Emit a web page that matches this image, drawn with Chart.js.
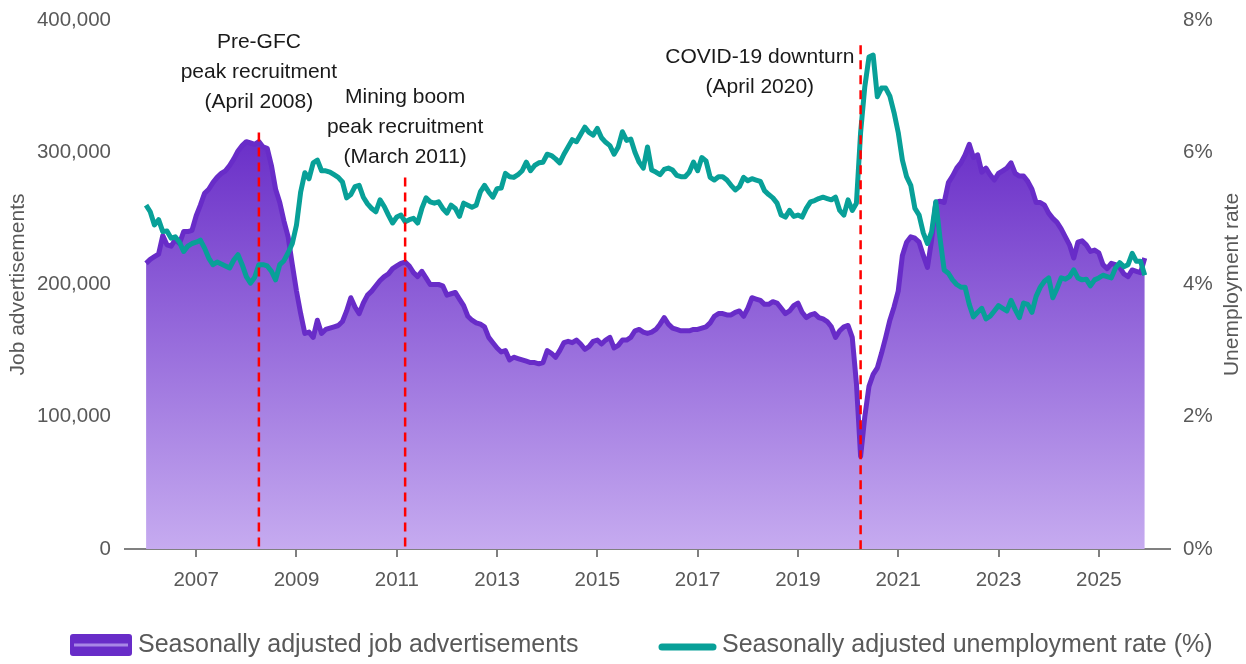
<!DOCTYPE html>
<html>
<head>
<meta charset="utf-8">
<title>Job advertisements and unemployment rate</title>
<script src="https://cdn.jsdelivr.net/npm/chart.js@4.4.1/dist/chart.umd.min.js"></script>
<style>
    html, body { margin: 0; padding: 0; background: #fff; }
    #wrap { width: 1246px; height: 664px; }
</style>
</head>
<body>
<div id="wrap"><canvas id="chart" width="1246" height="664"></canvas></div>
<script>
// ==========================
// Data (monthly, Jan 2006 - Dec 2025)
// ==========================
const firstYear = 2006;
const lastYear = 2025;

// Seasonally adjusted job advertisements, thousands
const jobAds = [
    216, 219, 221, 223, 237, 230, 229, 234, 231, 240, 240, 241,   // 2006
    252, 260, 269, 272, 277, 281, 284, 286, 290, 295, 301, 305,   // 2007
    308, 307, 306, 308, 304, 303, 290, 272, 262, 248, 236, 215,   // 2008
    195, 178, 163, 164, 160, 173, 163, 166, 167, 168, 169, 172,   // 2009
    180, 190, 183, 178, 186, 192, 195, 199, 203, 206, 208, 212,   // 2010
    214, 216, 217, 214, 209, 206, 210, 205, 200, 200, 200, 199,   // 2011
    192, 193, 194, 189, 184, 176, 173, 171, 170, 168, 160, 156,   // 2012
    152, 149, 150, 143, 145, 144, 143, 142, 141, 141, 140, 141,   // 2013
    150, 148, 145, 150, 156, 157, 156, 158, 155, 151, 153, 157,   // 2014
    158, 155, 158, 160, 152, 154, 158, 158, 160, 165, 166, 164,   // 2015
    163, 164, 166, 170, 175, 170, 167, 166, 165, 165, 165, 166,   // 2016
    166, 167, 168, 171, 176, 178, 178, 177, 177, 179, 180, 176,   // 2017
    182, 190, 189, 188, 185, 185, 187, 186, 182, 178, 180, 184,   // 2018
    186, 179, 175, 177, 178, 175, 174, 172, 168, 160, 165, 168,   // 2019
    169, 160, 125, 70, 100, 123, 132, 137, 148, 160, 173, 183,    // 2020
    195, 222, 232, 236, 235, 232, 222, 213, 234, 262, 263, 262,   // 2021
    277, 282, 288, 292, 298, 306, 296, 298, 285, 288, 283, 279,   // 2022
    284, 286, 288, 292, 284, 282, 282, 278, 272, 262, 262, 260,   // 2023
    254, 250, 247, 242, 236, 230, 220, 232, 233, 230, 225, 226,   // 2024
    224, 215, 212, 216, 215, 213, 208, 206, 211, 210, 209, 220    // 2025
];

// Seasonally adjusted unemployment rate, %
const unemployment = [
    5.20, 5.10, 4.90, 4.98, 4.80, 4.81, 4.70, 4.72, 4.64, 4.50, 4.58, 4.62,   // 2006
    4.64, 4.67, 4.55, 4.40, 4.30, 4.34, 4.31, 4.28, 4.25, 4.37, 4.45, 4.30,   // 2007
    4.12, 4.02, 4.11, 4.30, 4.30, 4.28, 4.20, 4.07, 4.30, 4.36, 4.48, 4.62,   // 2008
    4.90, 5.40, 5.69, 5.60, 5.84, 5.88, 5.72, 5.72, 5.70, 5.66, 5.62, 5.55,   // 2009
    5.31, 5.36, 5.48, 5.50, 5.32, 5.22, 5.15, 5.10, 5.28, 5.18, 5.05, 4.93,   // 2010
    5.02, 5.05, 4.95, 4.98, 5.00, 4.93, 5.15, 5.31, 5.25, 5.23, 5.25, 5.15,   // 2011
    5.08, 5.20, 5.15, 5.03, 5.23, 5.20, 5.17, 5.20, 5.40, 5.50, 5.40, 5.32,   // 2012
    5.45, 5.46, 5.68, 5.63, 5.62, 5.66, 5.72, 5.85, 5.72, 5.80, 5.84, 5.85,   // 2013
    5.97, 5.95, 5.90, 5.84, 5.97, 6.08, 6.19, 6.16, 6.27, 6.38, 6.30, 6.26,   // 2014
    6.36, 6.22, 6.15, 6.10, 5.97, 6.08, 6.31, 6.18, 6.20, 6.00, 5.85, 5.76,   // 2015
    6.08, 5.73, 5.70, 5.66, 5.74, 5.76, 5.73, 5.65, 5.63, 5.63, 5.70, 5.85,   // 2016
    5.72, 5.92, 5.87, 5.62, 5.58, 5.63, 5.63, 5.58, 5.50, 5.43, 5.48, 5.62,   // 2017
    5.57, 5.60, 5.58, 5.56, 5.42, 5.36, 5.31, 5.23, 5.05, 5.02, 5.12, 5.03,   // 2018
    5.05, 5.02, 5.15, 5.25, 5.27, 5.30, 5.32, 5.30, 5.28, 5.32, 5.12, 5.05,   // 2019
    5.28, 5.12, 5.23, 6.30, 6.99, 7.44, 7.47, 6.84, 6.97, 6.97, 6.85, 6.60,   // 2020
    6.30, 5.88, 5.63, 5.50, 5.15, 5.05, 4.78, 4.62, 4.80, 5.25, 4.70, 4.22,   // 2021
    4.17, 4.07, 4.00, 3.96, 3.96, 3.70, 3.51, 3.58, 3.64, 3.48, 3.52, 3.60,   // 2022
    3.68, 3.64, 3.60, 3.76, 3.62, 3.50, 3.72, 3.70, 3.58, 3.82, 3.96, 4.05,   // 2023
    4.10, 3.80, 3.94, 4.10, 4.08, 4.12, 4.22, 4.10, 4.07, 4.08, 3.98, 4.07,   // 2024
    4.10, 4.14, 4.12, 4.10, 4.25, 4.33, 4.27, 4.30, 4.47, 4.35, 4.35, 4.14    // 2025
];

const tickYears = [2007, 2009, 2011, 2013, 2015, 2017, 2019, 2021, 2023, 2025];
const leftTicks = [0, 100, 200, 300, 400];
const rightTicks = [0, 2, 4, 6, 8];

const seriesNames = [
    "Seasonally adjusted job advertisements",
    "Seasonally adjusted unemployment rate (%)"
];

// month position on the x axis (decimal year)
const months = [];
for (let y = firstYear; y <= lastYear; y++) {
    for (let m = 0; m < 12; m++) months.push(y + m / 12);
}

// ==========================
// Annotations
// ==========================
const events = [
    { at: 2008 + 3 / 12, lineTop: 315, textAt: 2008 + 3 / 12, textTop: 383, lines: ["Pre-GFC", "peak recruitment", "(April 2008)"] },
    { at: 2011 + 2 / 12, lineTop: 281, textAt: 2011 + 2 / 12, textTop: 342, lines: ["Mining boom", "peak recruitment", "(March 2011)"] },
    { at: 2020 + 3 / 12, lineTop: 381, textAt: 2018.24, textTop: 372, lines: ["COVID-19 downturn", "(April 2020)"] }
];

const PURPLE = "#682cc8";
const TEAL = "#08a098";
const GREY = "#595959";
const FONT = "'Liberation Sans', Arial, sans-serif";

function purpleFill(chart) {
    const { chartArea, scales } = chart;
    if (!chartArea) return "rgba(104,44,200,0.6)";
    const g = chart.ctx.createLinearGradient(0, scales.y.getPixelForValue(310), 0, chartArea.bottom);
    g.addColorStop(0, "#6a2fc8");
    g.addColorStop(1, "#c6abf0");
    return g;
}

// y axes: fixed width and no extra top/bottom padding from the labels
function fitSide(width) {
    return s => {
        s.width = width;
        s.paddingTop = 0;
        s.paddingBottom = 0;
    };
}

// ==========================
// Overlay plugin: event lines, notes, axis titles, legend
// ==========================
const overlay = {
    id: "overlay",
    afterDatasetsDraw(chart) {
        const { ctx, chartArea, scales } = chart;
        events.forEach(ev => {
            const x = scales.x.getPixelForValue(ev.at);
            ctx.save();
            ctx.strokeStyle = "#ff0000";
            ctx.lineWidth = 2.5;
            ctx.setLineDash([9, 6]);
            ctx.beginPath();
            ctx.moveTo(x, scales.y.getPixelForValue(ev.lineTop));
            ctx.lineTo(x, chartArea.bottom);
            ctx.stroke();
            ctx.restore();
        });
    },
    afterDraw(chart) {
        const { ctx, chartArea, scales } = chart;
        ctx.save();

        // event notes
        ctx.fillStyle = "#1a1a1a";
        ctx.font = "21px " + FONT;
        ctx.textAlign = "center";
        ctx.textBaseline = "middle";
        events.forEach(ev => {
            const x = scales.x.getPixelForValue(ev.textAt);
            const y0 = scales.y.getPixelForValue(ev.textTop);
            ev.lines.forEach((t, i) => ctx.fillText(t, x, y0 + i * 30));
        });

        // axis titles
        const midY = (chartArea.top + chartArea.bottom) / 2;
        ctx.fillStyle = GREY;
        ctx.font = "21px " + FONT;
        [["Job advertisements", 18], ["Unemployment rate", 1232]].forEach(([t, x]) => {
            ctx.save();
            ctx.translate(x, midY);
            ctx.rotate(-Math.PI / 2);
            ctx.fillText(t, 0, 0);
            ctx.restore();
        });

        // legend
        const ly = 645;
        ctx.fillStyle = PURPLE;
        ctx.beginPath();
        ctx.roundRect(70, ly - 11, 62, 22, 3);
        ctx.fill();
        ctx.strokeStyle = "#a887e6";
        ctx.lineWidth = 3;
        ctx.beginPath();
        ctx.moveTo(74, ly);
        ctx.lineTo(128, ly);
        ctx.stroke();

        ctx.strokeStyle = TEAL;
        ctx.lineWidth = 7;
        ctx.lineCap = "round";
        ctx.beginPath();
        ctx.moveTo(662, ly + 2);
        ctx.lineTo(713, ly + 2);
        ctx.stroke();

        ctx.fillStyle = GREY;
        ctx.font = "25px " + FONT;
        ctx.textAlign = "left";
        ctx.fillText(seriesNames[0], 138, ly);
        ctx.fillText(seriesNames[1], 722, ly);
        ctx.restore();
    }
};

// ==========================
// Chart
// ==========================
new Chart(document.getElementById("chart"), {
    type: "line",
    data: {
        datasets: [
            {
                label: seriesNames[1],
                data: months.map((x, i) => ({ x: x, y: unemployment[i] })),
                yAxisID: "y1",
                borderColor: TEAL,
                borderWidth: 5,
                borderJoinStyle: "round",
                pointRadius: 0,
                tension: 0,
                fill: false,
                order: 0
            },
            {
                label: seriesNames[0],
                data: months.map((x, i) => ({ x: x, y: jobAds[i] })),
                yAxisID: "y",
                borderColor: PURPLE,
                borderWidth: 5,
                borderJoinStyle: "round",
                pointRadius: 0,
                tension: 0,
                fill: "origin",
                backgroundColor: ctx => purpleFill(ctx.chart),
                order: 1
            }
        ]
    },
    options: {
        responsive: false,
        animation: false,
        layout: { padding: { top: 20, left: 0, right: 0, bottom: 0 } },
        plugins: { legend: { display: false }, tooltip: { enabled: false } },
        scales: {
            x: {
                type: "linear",
                min: 2005.58,
                max: 2026.42,
                afterBuildTicks: s => { s.ticks = tickYears.map(v => ({ value: v })); },
                afterFit: s => { s.height = 115; s.paddingLeft = 0; s.paddingRight = 0; },
                ticks: {
                    callback: v => String(v),
                    color: GREY,
                    font: { size: 20.5, family: FONT },
                    padding: 11,
                    maxRotation: 0,
                    autoSkip: false
                },
                grid: { display: true, drawOnChartArea: false, drawTicks: true, tickLength: 8, color: "#808080", lineWidth: 2 },
                border: { display: true, color: "#808080", width: 2 }
            },
            y: {
                position: "left",
                min: 0,
                max: 400,
                afterBuildTicks: s => { s.ticks = leftTicks.map(v => ({ value: v })); },
                afterFit: fitSide(125),
                ticks: {
                    callback: v => (v * 1000).toLocaleString("en-US"),
                    color: GREY,
                    font: { size: 20.5, family: FONT },
                    padding: 14
                },
                grid: { display: false, drawTicks: false },
                border: { display: false }
            },
            y1: {
                position: "right",
                min: 0,
                max: 8,
                afterBuildTicks: s => { s.ticks = rightTicks.map(v => ({ value: v })); },
                afterFit: fitSide(76),
                ticks: {
                    callback: v => v + "%",
                    color: GREY,
                    font: { size: 20.5, family: FONT },
                    padding: 13
                },
                grid: { display: false, drawTicks: false },
                border: { display: false }
            }
        }
    },
    plugins: [overlay]
});
</script>
</body>
</html>
